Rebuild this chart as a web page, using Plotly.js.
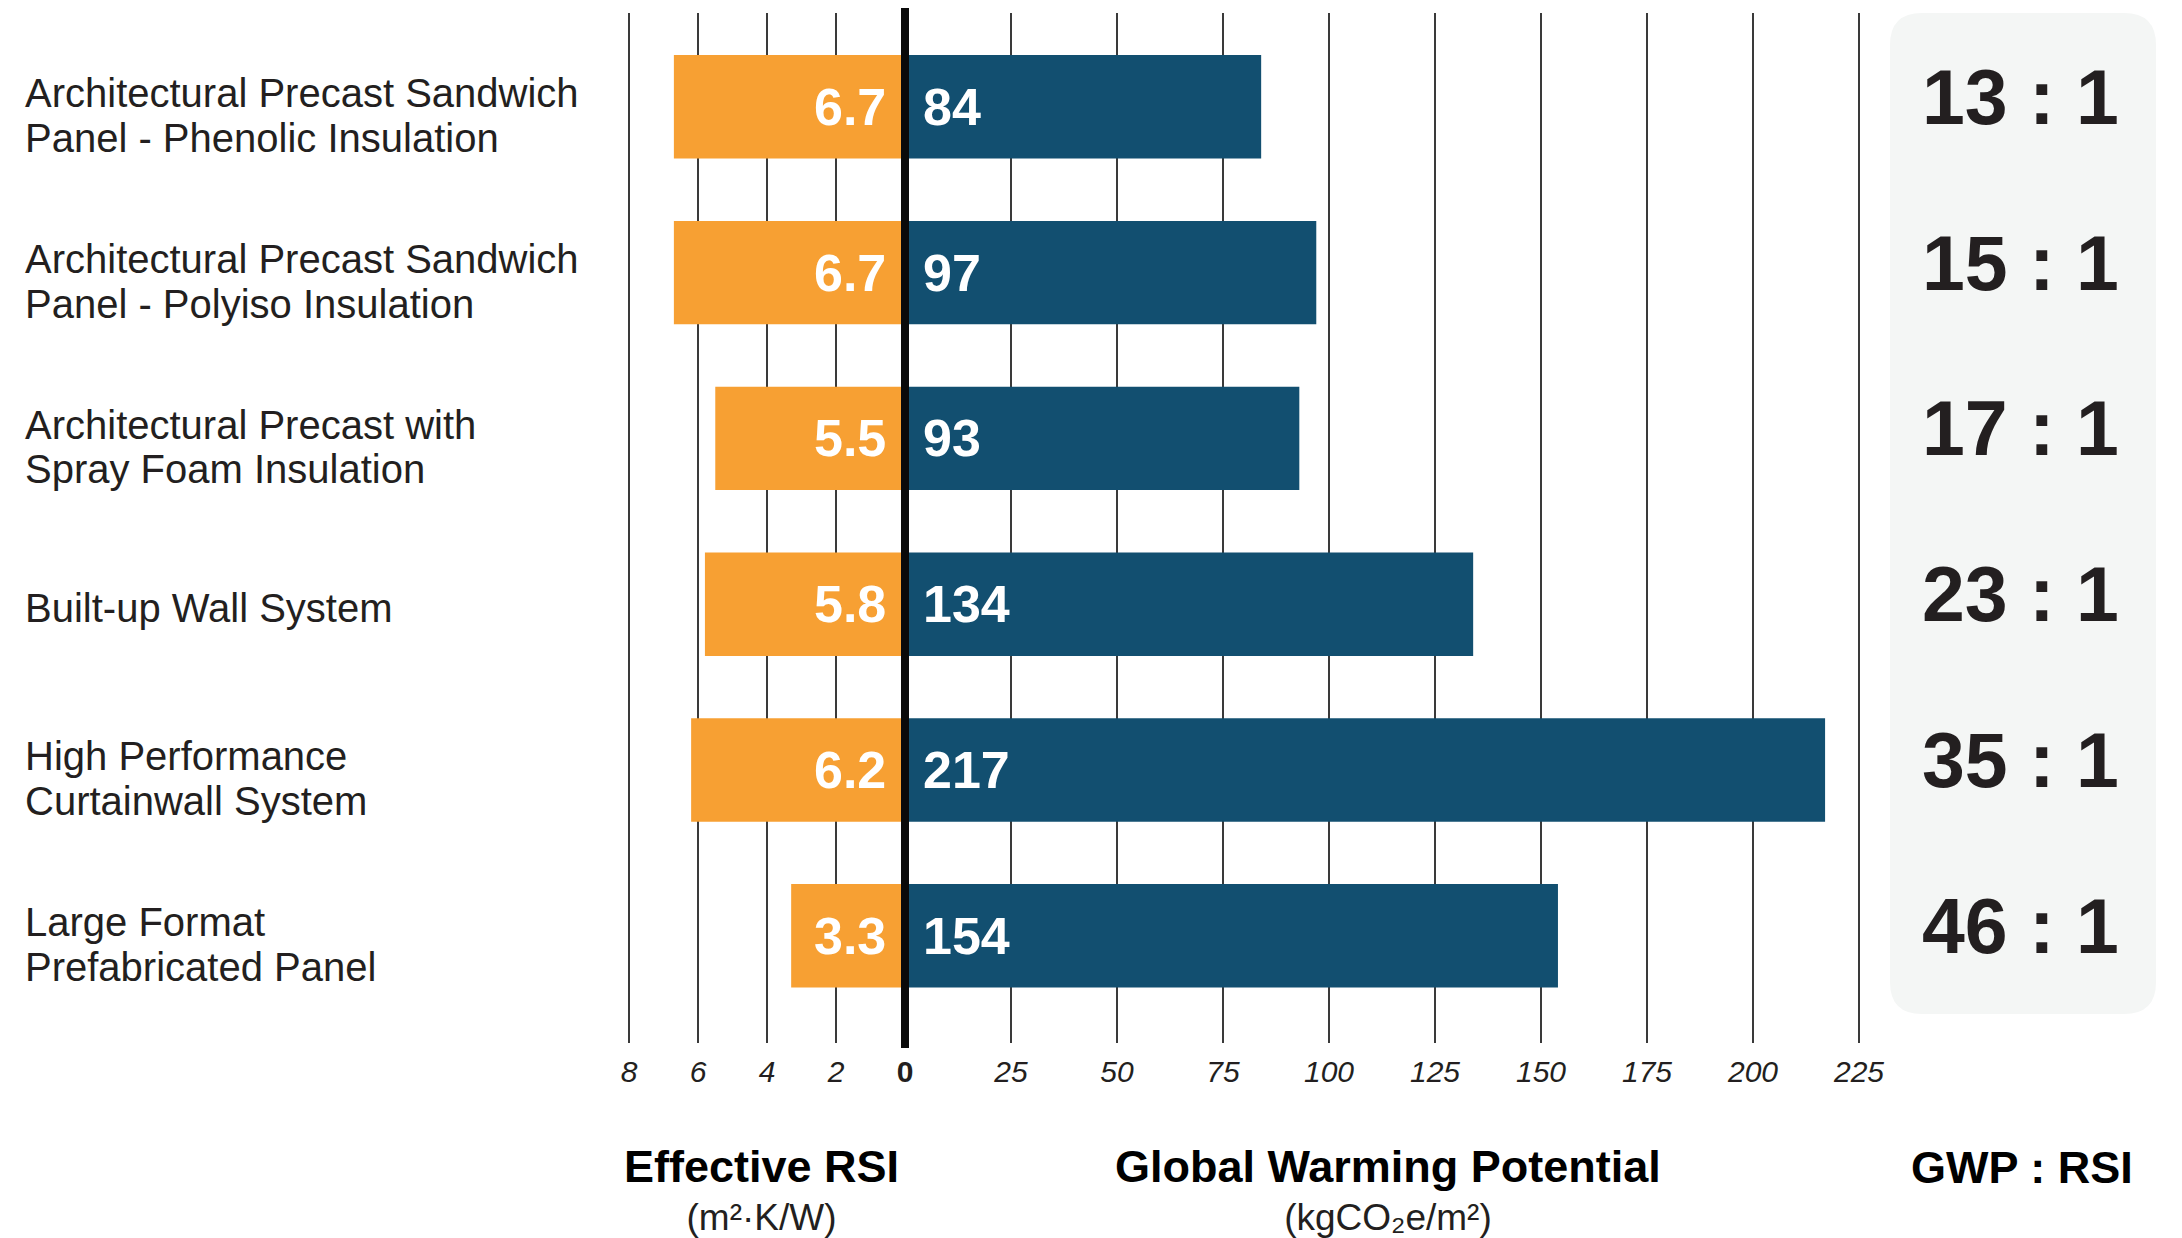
<!DOCTYPE html>
<html>
<head>
<meta charset="utf-8">
<script src="https://cdn.plot.ly/plotly-3.0.1.min.js"></script>
<style>html,body{margin:0;padding:0;background:#fff;}#chart{width:2182px;height:1238px;}</style>
</head>
<body>
<div id="chart"></div>
<script>
// ---- data ----
const categories = [
  'Architectural Precast Sandwich<br>Panel - Phenolic Insulation',
  'Architectural Precast Sandwich<br>Panel - Polyiso Insulation',
  'Architectural Precast with<br>Spray Foam Insulation',
  'Built-up Wall System',
  'High Performance<br>Curtainwall System',
  'Large Format<br>Prefabricated Panel'
];
const rsiValues = [6.7, 6.7, 5.5, 5.8, 6.2, 3.3];
const gwpValues = [84, 97, 93, 134, 217, 154];
const ratioValues = [13, 15, 17, 23, 35, 46];
const rsiTicks = [8, 6, 4, 2, 0];
const gwpTicks = [25, 50, 75, 100, 125, 150, 175, 200, 225];
const rsiTitle = 'Effective RSI';
const rsiUnit = '(m²·K/W)';
const gwpTitle = 'Global Warming Potential';
const gwpUnit = '(kgCO₂e/m²)';
const ratioTitle = 'GWP : RSI';

// ---- layout helpers (pixel -> paper) ----
const W = 2182, H = 1238;
const px = x => x / W;
const py = y => 1 - y / H;
const FONT = 'Liberation Sans, Arial, Helvetica, DejaVu Sans, sans-serif';
const ORANGE = '#F7A033';
const BLUE = '#124F70';
const TXT = '#231F20';

const traces = [
  {
    type: 'bar', orientation: 'h', x: rsiValues, y: categories,
    xaxis: 'x', yaxis: 'y', width: 0.624, textposition: 'none',
    marker: {color: ORANGE, line: {width: 0}}, hoverinfo: 'skip'
  },
  {
    type: 'bar', orientation: 'h', x: gwpValues, y: categories,
    xaxis: 'x2', yaxis: 'y', width: 0.624, textposition: 'none',
    marker: {color: BLUE, line: {width: 0}}, hoverinfo: 'skip'
  }
];

const annotations = [];
categories.forEach((c, i) => {
  const lines = c.split('<br>');
  lines.forEach((ln, k) => {
    // line centres in px below the bar centre
    const off = lines.length === 1 ? 4 : (k === 0 ? -13.5 : 31);
    annotations.push({
      xref: 'paper', x: px(23), yref: 'y', y: c, xanchor: 'left', yanchor: 'middle',
      align: 'left', text: ln, showarrow: false, yshift: -off,
      font: {family: FONT, size: 40, color: TXT}
    });
  });
  annotations.push({
    xref: 'x', x: 0, yref: 'y', y: c, xanchor: 'right', yanchor: 'middle',
    text: '<b>' + rsiValues[i].toFixed(1) + '</b>', showarrow: false, xshift: -17,
    font: {family: FONT, size: 52, color: '#ffffff'}
  });
  annotations.push({
    xref: 'x2', x: 0, yref: 'y', y: c, xanchor: 'left', yanchor: 'middle',
    text: '<b>' + gwpValues[i] + '</b>', showarrow: false, xshift: 16,
    font: {family: FONT, size: 52, color: '#ffffff'}
  });
  annotations.push({
    xref: 'paper', x: px(2020), yref: 'y', y: c, xanchor: 'center', yanchor: 'middle',
    text: '<b>' + ratioValues[i] + ' : 1</b>', showarrow: false, yshift: 10,
    font: {family: FONT, size: 77, color: TXT}
  });
});
// bottom titles: bold title + unit line in one text block
const titleBlock = (t, u) => '<span style="font-size:45px;color:#000"><b>' + t + '</b></span><br>' + u;
annotations.push({xref:'paper', yref:'paper', x: px(761), y: py(1189), xanchor:'center', yanchor:'middle',
  text: titleBlock(rsiTitle, rsiUnit), showarrow:false, borderpad:0, font:{family:FONT, size:37, color:TXT}});
annotations.push({xref:'paper', yref:'paper', x: px(1388), y: py(1189), xanchor:'center', yanchor:'middle',
  text: titleBlock(gwpTitle, gwpUnit), showarrow:false, borderpad:0, font:{family:FONT, size:37, color:TXT}});
annotations.push({xref:'paper', yref:'paper', x: px(2022), y: py(1167), xanchor:'center', yanchor:'middle',
  text:'<b>'+ratioTitle+'</b>', showarrow:false, font:{family:FONT, size:45, color:'#000'}});

// rounded grey panel
const bx0 = px(1890), bx1 = px(2156), by0 = py(1014), by1 = py(13);
const rx = 32 / W, ry = 32 / H;
const panelPath = `M ${bx0+rx} ${by1} L ${bx1-rx} ${by1} Q ${bx1} ${by1} ${bx1} ${by1-ry} ` +
  `L ${bx1} ${by0+ry} Q ${bx1} ${by0} ${bx1-rx} ${by0} L ${bx0+rx} ${by0} Q ${bx0} ${by0} ${bx0} ${by0+ry} ` +
  `L ${bx0} ${by1-ry} Q ${bx0} ${by1} ${bx0+rx} ${by1} Z`;

const shapes = [
  {type:'path', xref:'paper', yref:'paper', path: panelPath, fillcolor:'#F4F6F5', line:{width:0}, layer:'below'},
  {type:'line', xref:'paper', yref:'paper', x0:px(905), x1:px(905), y0:py(1048), y1:py(8),
   line:{color:'#0a0a0a', width:8}, layer:'above'}
];

const tickFont = {family: FONT, size: 30, color: TXT};
const layout = {
  width: W, height: H,
  margin: {l:0, r:0, t:0, b:0, pad:0},
  paper_bgcolor: '#ffffff', plot_bgcolor: 'rgba(0,0,0,0)',
  showlegend: false, barmode: 'overlay',
  font: {family: FONT, color: TXT},
  xaxis: {
    domain: [px(628), px(905)], range: [8.03, 0], anchor: 'y',
    tickmode: 'array', tickvals: rsiTicks,
    ticktext: rsiTicks.map(v => v === 0 ? '<b>' + v + '</b>' : '<i>' + v + '</i>'),
    showgrid: true, gridcolor: '#3a3a3a', gridwidth: 1.3, zeroline: false, showline: false,
    ticks: 'outside', ticklen: 2, tickcolor: 'rgba(0,0,0,0)', tickfont: tickFont, fixedrange: true
  },
  xaxis2: {
    domain: [px(905), px(905 + 226 * 4.24)], range: [0, 226], anchor: 'y',
    tickmode: 'array', tickvals: gwpTicks, ticktext: gwpTicks.map(v => '<i>' + v + '</i>'),
    showgrid: true, gridcolor: '#3a3a3a', gridwidth: 1.3, zeroline: false, showline: false,
    ticks: 'outside', ticklen: 2, tickcolor: 'rgba(0,0,0,0)', tickfont: tickFont, fixedrange: true
  },
  yaxis: {
    domain: [py(1043), py(13)], type: 'category', range: [5.647, -0.566],
    tickmode: 'array', tickvals: [], ticktext: [],
    showticklabels: false, showgrid: false, zeroline: false, showline: false, ticks: '', fixedrange: true
  },
  annotations: annotations,
  shapes: shapes
};

Plotly.newPlot('chart', traces, layout, {displayModeBar: false, staticPlot: true});
</script>
</body>
</html>
